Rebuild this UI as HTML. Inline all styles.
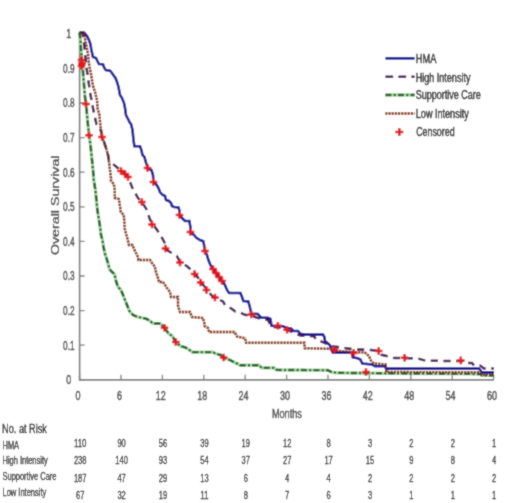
<!DOCTYPE html>
<html><head><meta charset="utf-8"><style>
html,body{margin:0;padding:0;background:#fff;}
svg{display:block;}
#w{width:520px;height:503px;overflow:hidden;}
text{font-family:"Liberation Sans",sans-serif;}
.b text,text.b{stroke:currentColor;stroke-width:0.45px;}
.t text,text.t{stroke:currentColor;stroke-width:0.3px;}
</style></head><body><div id="w">
<svg width="520" height="503" viewBox="0 0 520 503">
<defs><filter id="bl" filterUnits="userSpaceOnUse" x="0" y="0" width="520" height="503"><feConvolveMatrix order="3" kernelMatrix="1 2 1 2 12 2 1 2 1" divisor="24" edgeMode="none"/></filter></defs>
<g filter="url(#bl)">
<rect width="520" height="503" fill="#fff"/>
<path d="M79.6,32V379.8H494" fill="none" stroke="#7c7c7c" stroke-width="1.7"/>
<path d="M79.6,379.8V374.8M121.0,379.8V374.8M162.4,379.8V374.8M203.8,379.8V374.8M245.2,379.8V374.8M286.6,379.8V374.8M328.0,379.8V374.8M369.4,379.8V374.8M410.8,379.8V374.8M452.2,379.8V374.8M493.6,379.8V374.8M79.6,379.8H84.6M79.6,345.2H84.6M79.6,310.6H84.6M79.6,276.0H84.6M79.6,241.4H84.6M79.6,206.8H84.6M79.6,172.2H84.6M79.6,137.6H84.6M79.6,103.0H84.6M79.6,68.4H84.6M79.6,33.8H84.6" fill="none" stroke="#7c7c7c" stroke-width="1.3"/>
<g fill="none" stroke-linejoin="miter" stroke-linecap="butt">
<polyline points="79.6,32.5 80.5,40 81,50 82,60 83,72 84,85 85,97 86.5,108 87,115 88,125 89,135 90.5,145 91,150 92,160 93,170 93.8,180 95.4,190 96.4,200 97.4,210 99,220 100.4,229 101,235 102.5,240 103.5,247 105,254 106.4,258 108,263 109.4,269 112,272 114.5,274 116,281 118,287 121,290 123,295 125.4,301 127.4,306 129.4,311 133,315 138,317 143,318 146,318.7 149.5,320.5 153,323.5 160.3,323.5 164.5,327.7 168.6,333.6 172.2,336 175.8,342 180.6,346.2 185.3,347.4 189,349.7 192.5,352.1 212.7,352.1 216,353.8 220.8,355 223.6,357.5 229.4,359.8 234.8,362.5 240.2,365.2 259,365.2 261.7,367.9 273.8,367.9 276.5,369.9 327.7,370.2 331.5,372 337,372.8 390,373.3 480,374 482,375.5 494,375.5" stroke="#a4d4a0" stroke-width="3.2"/>
<polyline points="79.6,32.5 84,33.5 86,44 88,54 89,64 91,74 93,86 95,92 97,100 97.5,108 99.4,115 100,121 100.5,126 101.4,133 102,137 104,142 106,148 108,155 109,162 110,170 111,178 111,181 113.8,184 114.8,190 114.8,198 118.8,199 119.8,205 120.8,212 123.8,215 124.3,222 124.8,229 127,237 129,245 132.4,245 135,251 138,257 138.4,260 150,260 152,263 154.8,266.7 156,272 158,278 159,282 163,282 167,288 170,292 171,297 178,297 178,306 180,312 190,312 192,317 203,318 204.3,323 204.6,326 208,328 209.2,332 234.6,332 237,336.5 245,338.3 246.1,342.8 304.3,342.8 304.8,348.2 330,348.8 332,350 341.6,351.2 355.5,352.4 364.7,352.4 369,356 371,360.6 373.8,363.5 385.4,364.4 386.3,372 479,372.3 480.4,373.5 482,374.6 494,374.6" stroke="#ecc8b4" stroke-width="2.8"/>
<polyline points="79.6,32.5 84,32.5 87,36 89,40 90.4,44 91.4,50 93,57 96,58 97.4,61 99,64 103,64.3 104.3,68 105.8,70 110,70.7 111.8,72.7 113.8,75.7 115.5,78 117,82 118.5,87 120,95 122,98 124,103 125,108 126,115 128,119 130,123 131,124 132.5,130 133.5,140 134.4,146.3 140,146.3 141.4,150 142.4,154.8 144.4,156.8 146,162.7 147.5,167 149,169 151.4,170 153,175 153.4,182 156,184 158.4,187.8 160,192 162.4,194.8 165,196 166,200 169,201 171,203 172,206 174,207 178.5,207.5 179.5,211 179.5,215 182,218 185,221 189.4,221 190.4,227 190.4,232 194,235 196.4,237.8 200,240 203.3,241.3 204.4,247 205,251.4 207,255 208.4,260 210.4,265 213,269 216,273 219,277 222,281 224.8,284.7 227,290 229,293 240.4,293 242,297 243.4,301 248.3,301.4 249.8,306.8 251.3,314.3 254.8,313.8 257.8,314 261.1,317.7 268,317.7 270.4,318.8 271.5,325.8 283,326.3 287,328 291,328.5 293.4,331 298,331 300.4,333.8 305,334.6 323,334.6 324.4,337 325,341 327.4,343 330,345.3 331.4,349.8 332.9,352.6 351.8,352.6 352.8,357.3 357.7,358.3 360.4,359.6 362.3,363.5 372,364.4 374.8,366.3 385.4,366.3 386.3,368.6 479,368.6 480.4,370.2 482,372.4 494,372.4" stroke="#0e0e98" stroke-width="2.6"/>
<polyline points="79.6,32.5 82.5,32.8 83.5,38 85,52 86,64 88,78 90,92 91.5,100 93,108 94.4,115 96.4,124 99,127 101.4,132 102,137 104,142 106,148 108,155 109,160 113,164 119,169 121,171 125,174 128,177 132,187 134,191 138,198 141.8,202 145.8,208 147.7,212 149.7,219 152.7,224 157.8,231 162.7,239 164.7,243 167,250 170,252 176.8,256 180,262 186.8,266 194.7,273 199,279 201.5,283 205,287 208,290.5 211,295 215,298 223,301.4 225,305 231,308.3 235,311.3 241,312.8 244.8,314.8 252,316 261,319 268,320 271.5,327 283,327.5 287,330 293.4,332.5 300.4,335.5 314,336.2 316,339.6 319.6,340.8 325,343 330,346 338,347 348,348.5 355,349.5 365,349.5 371,350 378,351 381.5,354.8 390,356.7 394,358 417,358.3 426,360.8 462,361 464,363 472,363 474,365.5 480,365.5 484,368.5 494,368.5" stroke="#461558" stroke-width="2.5" stroke-dasharray="7.2,5.5"/>
<polyline points="79.6,32.5 80.5,40 81,50 82,60 83,72 84,85 85,97 86.5,108 87,115 88,125 89,135 90.5,145 91,150 92,160 93,170 93.8,180 95.4,190 96.4,200 97.4,210 99,220 100.4,229 101,235 102.5,240 103.5,247 105,254 106.4,258 108,263 109.4,269 112,272 114.5,274 116,281 118,287 121,290 123,295 125.4,301 127.4,306 129.4,311 133,315 138,317 143,318 146,318.7 149.5,320.5 153,323.5 160.3,323.5 164.5,327.7 168.6,333.6 172.2,336 175.8,342 180.6,346.2 185.3,347.4 189,349.7 192.5,352.1 212.7,352.1 216,353.8 220.8,355 223.6,357.5 229.4,359.8 234.8,362.5 240.2,365.2 259,365.2 261.7,367.9 273.8,367.9 276.5,369.9 327.7,370.2 331.5,372 337,372.8 390,373.3 480,374 482,375.5 494,375.5" stroke="#12601a" stroke-width="2.4" stroke-dasharray="6,2.3,2,2.3"/>
<polyline points="79.6,32.5 84,33.5 86,44 88,54 89,64 91,74 93,86 95,92 97,100 97.5,108 99.4,115 100,121 100.5,126 101.4,133 102,137 104,142 106,148 108,155 109,162 110,170 111,178 111,181 113.8,184 114.8,190 114.8,198 118.8,199 119.8,205 120.8,212 123.8,215 124.3,222 124.8,229 127,237 129,245 132.4,245 135,251 138,257 138.4,260 150,260 152,263 154.8,266.7 156,272 158,278 159,282 163,282 167,288 170,292 171,297 178,297 178,306 180,312 190,312 192,317 203,318 204.3,323 204.6,326 208,328 209.2,332 234.6,332 237,336.5 245,338.3 246.1,342.8 304.3,342.8 304.8,348.2 330,348.8 332,350 341.6,351.2 355.5,352.4 364.7,352.4 369,356 371,360.6 373.8,363.5 385.4,364.4 386.3,372 479,372.3 480.4,373.5 482,374.6 494,374.6" stroke="#6a2412" stroke-width="2.4" stroke-dasharray="1.8,1.4"/>
<path d="M77.7,60H85.3M81.5,56.2V63.8M78.2,63.5H85.8M82,59.7V67.3M77.7,66H85.3M81.5,62.2V69.8M82.2,104H89.8M86,100.2V107.8M85.2,135.3H92.8M89,131.5V139.10000000000002M98.2,137H105.8M102,133.2V140.8M117.2,171H124.8M121,167.2V174.8M121.2,174H128.8M125,170.2V177.8M124.2,177H131.8M128,173.2V180.8M138.0,202H145.60000000000002M141.8,198.2V205.8M148.2,224.5H155.8M152,220.7V228.3M161.7,248.5H169.3M165.5,244.7V252.3M176.2,262.5H183.8M180,258.7V266.3M190.79999999999998,274H198.4M194.6,270.2V277.8M196.79999999999998,282.5H204.4M200.6,278.7V286.3M202.7,290H210.3M206.5,286.2V293.8M211.2,297.5H218.8M215,293.7V301.3M143.7,168H151.3M147.5,164.2V171.8M149.6,182H157.20000000000002M153.4,178.2V185.8M175.7,215H183.3M179.5,211.2V218.8M186.6,232H194.20000000000002M190.4,228.2V235.8M201.2,251H208.8M205,247.2V254.8M209.2,269H216.8M213,265.2V272.8M212.2,273H219.8M216,269.2V276.8M215.2,277H222.8M219,273.2V280.8M218.2,281H225.8M222,277.2V284.8M247.5,314.5H255.10000000000002M251.3,310.7V318.3M274.09999999999997,325.8H281.7M277.9,322.0V329.6M283.2,329.8H290.8M287,326.0V333.6M330.59999999999997,349.5H338.2M334.4,345.7V353.3M349.9,352.9H357.5M353.7,349.09999999999997V356.7M374.9,351H382.5M378.7,347.2V354.8M400.8,357.7H408.40000000000003M404.6,353.9V361.5M457.0,360.4H464.6M460.8,356.59999999999997V364.2M160.7,327.7H168.3M164.5,323.9V331.5M172.0,342H179.60000000000002M175.8,338.2V345.8M219.79999999999998,357.5H227.4M223.6,353.7V361.3M362.2,372H369.8M366,368.2V375.8" stroke="#e3141c" stroke-width="2.5"/>
</g>
<g class="b" fill="#454545" color="#454545" font-size="12.5"><text x="78.0" y="399.5" text-anchor="middle" textLength="5.0" lengthAdjust="spacingAndGlyphs">0</text><text x="119.4" y="399.5" text-anchor="middle" textLength="5.0" lengthAdjust="spacingAndGlyphs">6</text><text x="160.8" y="399.5" text-anchor="middle" textLength="10.0" lengthAdjust="spacingAndGlyphs">12</text><text x="202.2" y="399.5" text-anchor="middle" textLength="10.0" lengthAdjust="spacingAndGlyphs">18</text><text x="243.6" y="399.5" text-anchor="middle" textLength="10.0" lengthAdjust="spacingAndGlyphs">24</text><text x="285.0" y="399.5" text-anchor="middle" textLength="10.0" lengthAdjust="spacingAndGlyphs">30</text><text x="326.4" y="399.5" text-anchor="middle" textLength="10.0" lengthAdjust="spacingAndGlyphs">36</text><text x="367.8" y="399.5" text-anchor="middle" textLength="10.0" lengthAdjust="spacingAndGlyphs">42</text><text x="409.2" y="399.5" text-anchor="middle" textLength="10.0" lengthAdjust="spacingAndGlyphs">48</text><text x="450.6" y="399.5" text-anchor="middle" textLength="10.0" lengthAdjust="spacingAndGlyphs">54</text><text x="492.0" y="399.5" text-anchor="middle" textLength="10.0" lengthAdjust="spacingAndGlyphs">60</text></g>
<g class="b" fill="#454545" color="#454545" font-size="12.5"><text x="68.8" y="384.1" text-anchor="middle" textLength="5.0" lengthAdjust="spacingAndGlyphs">0</text><text x="68.8" y="349.5" text-anchor="middle" textLength="11.5" lengthAdjust="spacingAndGlyphs">0.1</text><text x="68.8" y="314.9" text-anchor="middle" textLength="11.5" lengthAdjust="spacingAndGlyphs">0.2</text><text x="68.8" y="280.3" text-anchor="middle" textLength="11.5" lengthAdjust="spacingAndGlyphs">0.3</text><text x="68.8" y="245.7" text-anchor="middle" textLength="11.5" lengthAdjust="spacingAndGlyphs">0.4</text><text x="68.8" y="211.1" text-anchor="middle" textLength="11.5" lengthAdjust="spacingAndGlyphs">0.5</text><text x="68.8" y="176.5" text-anchor="middle" textLength="11.5" lengthAdjust="spacingAndGlyphs">0.6</text><text x="68.8" y="141.9" text-anchor="middle" textLength="11.5" lengthAdjust="spacingAndGlyphs">0.7</text><text x="68.8" y="107.3" text-anchor="middle" textLength="11.5" lengthAdjust="spacingAndGlyphs">0.8</text><text x="68.8" y="72.7" text-anchor="middle" textLength="11.5" lengthAdjust="spacingAndGlyphs">0.9</text><text x="68.8" y="38.1" text-anchor="middle" textLength="5.0" lengthAdjust="spacingAndGlyphs">1</text></g>
<text class="b" x="286.9" y="418.3" font-size="12.5" fill="#454545" color="#454545" text-anchor="middle" textLength="30" lengthAdjust="spacingAndGlyphs">Months</text>
<text class="b" transform="translate(59,205.3) scale(0.74,1) rotate(-90)" font-size="14" fill="#454545" color="#454545" text-anchor="middle" textLength="99.5" lengthAdjust="spacingAndGlyphs" style="font-size:14px">Overall Survival</text>
<!-- legend -->
<g fill="none" stroke-width="2.2">
<path d="M385.4,58.3H414.6" stroke="#0e0e98" stroke-width="2.7"/>
<path d="M385.4,76.8H414.6" stroke="#461558" stroke-width="2.6" stroke-dasharray="7.8,5.2"/>
<path d="M385.4,94.9H414.6" stroke="#a4d4a0" stroke-width="3.2"/>
<path d="M385.4,94.9H414.6" stroke="#12601a" stroke-width="2.5" stroke-dasharray="6,2.3,2,2.3"/>
<path d="M385.4,113.5H414.6" stroke="#ecc8b4" stroke-width="2.8"/>
<path d="M385.4,113.5H414.6" stroke="#6a2412" stroke-width="2.4" stroke-dasharray="1.8,1.4"/>
<path d="M395.3,132H403.3M399.3,128V136" stroke="#e3141c" stroke-width="2.5"/>
</g>
<g class="b" fill="#222" color="#222" font-size="12.2">
<text x="415.8" y="62.7" textLength="20.6" lengthAdjust="spacingAndGlyphs">HMA</text>
<text x="415.8" y="81.6" textLength="54.6" lengthAdjust="spacingAndGlyphs">High Intensity</text>
<text x="415.8" y="98.9" textLength="65" lengthAdjust="spacingAndGlyphs">Supportive Care</text>
<text x="415.8" y="117.6" textLength="53" lengthAdjust="spacingAndGlyphs">Low Intensity</text>
<text x="416.2" y="135.9" textLength="38.4" lengthAdjust="spacingAndGlyphs">Censored</text>
</g>
<text class="t" x="2.1" y="433.4" font-size="12.5" fill="#111" color="#111" textLength="44.8" lengthAdjust="spacingAndGlyphs">No. at Risk</text>
<g class="t" fill="#1a1a1a" color="#1a1a1a" font-size="10.5"><text x="2.5" y="448.9" textLength="16.6" lengthAdjust="spacingAndGlyphs">HMA</text><text x="80.2" y="446.9" font-size="11" text-anchor="middle" textLength="12.600000000000001" lengthAdjust="spacingAndGlyphs">110</text><text x="121.6" y="446.9" font-size="11" text-anchor="middle" textLength="8.4" lengthAdjust="spacingAndGlyphs">90</text><text x="163.0" y="446.9" font-size="11" text-anchor="middle" textLength="8.4" lengthAdjust="spacingAndGlyphs">56</text><text x="204.4" y="446.9" font-size="11" text-anchor="middle" textLength="8.4" lengthAdjust="spacingAndGlyphs">39</text><text x="245.8" y="446.9" font-size="11" text-anchor="middle" textLength="8.4" lengthAdjust="spacingAndGlyphs">19</text><text x="287.2" y="446.9" font-size="11" text-anchor="middle" textLength="8.4" lengthAdjust="spacingAndGlyphs">12</text><text x="328.6" y="446.9" font-size="11" text-anchor="middle" textLength="4.2" lengthAdjust="spacingAndGlyphs">8</text><text x="370.0" y="446.9" font-size="11" text-anchor="middle" textLength="4.2" lengthAdjust="spacingAndGlyphs">3</text><text x="411.4" y="446.9" font-size="11" text-anchor="middle" textLength="4.2" lengthAdjust="spacingAndGlyphs">2</text><text x="452.8" y="446.9" font-size="11" text-anchor="middle" textLength="4.2" lengthAdjust="spacingAndGlyphs">2</text><text x="494.2" y="446.9" font-size="11" text-anchor="middle" textLength="4.2" lengthAdjust="spacingAndGlyphs">1</text><text x="2.5" y="464.2" textLength="45.2" lengthAdjust="spacingAndGlyphs">High Intensity</text><text x="80.2" y="464.3" font-size="11" text-anchor="middle" textLength="12.600000000000001" lengthAdjust="spacingAndGlyphs">238</text><text x="121.6" y="464.3" font-size="11" text-anchor="middle" textLength="12.600000000000001" lengthAdjust="spacingAndGlyphs">140</text><text x="163.0" y="464.3" font-size="11" text-anchor="middle" textLength="8.4" lengthAdjust="spacingAndGlyphs">93</text><text x="204.4" y="464.3" font-size="11" text-anchor="middle" textLength="8.4" lengthAdjust="spacingAndGlyphs">54</text><text x="245.8" y="464.3" font-size="11" text-anchor="middle" textLength="8.4" lengthAdjust="spacingAndGlyphs">37</text><text x="287.2" y="464.3" font-size="11" text-anchor="middle" textLength="8.4" lengthAdjust="spacingAndGlyphs">27</text><text x="328.6" y="464.3" font-size="11" text-anchor="middle" textLength="8.4" lengthAdjust="spacingAndGlyphs">17</text><text x="370.0" y="464.3" font-size="11" text-anchor="middle" textLength="8.4" lengthAdjust="spacingAndGlyphs">15</text><text x="411.4" y="464.3" font-size="11" text-anchor="middle" textLength="4.2" lengthAdjust="spacingAndGlyphs">9</text><text x="452.8" y="464.3" font-size="11" text-anchor="middle" textLength="4.2" lengthAdjust="spacingAndGlyphs">8</text><text x="494.2" y="464.3" font-size="11" text-anchor="middle" textLength="4.2" lengthAdjust="spacingAndGlyphs">4</text><text x="2.5" y="480.0" textLength="54.0" lengthAdjust="spacingAndGlyphs">Supportive Care</text><text x="80.2" y="481.5" font-size="11" text-anchor="middle" textLength="12.600000000000001" lengthAdjust="spacingAndGlyphs">187</text><text x="121.6" y="481.5" font-size="11" text-anchor="middle" textLength="8.4" lengthAdjust="spacingAndGlyphs">47</text><text x="163.0" y="481.5" font-size="11" text-anchor="middle" textLength="8.4" lengthAdjust="spacingAndGlyphs">29</text><text x="204.4" y="481.5" font-size="11" text-anchor="middle" textLength="8.4" lengthAdjust="spacingAndGlyphs">13</text><text x="245.8" y="481.5" font-size="11" text-anchor="middle" textLength="4.2" lengthAdjust="spacingAndGlyphs">6</text><text x="287.2" y="481.5" font-size="11" text-anchor="middle" textLength="4.2" lengthAdjust="spacingAndGlyphs">4</text><text x="328.6" y="481.5" font-size="11" text-anchor="middle" textLength="4.2" lengthAdjust="spacingAndGlyphs">4</text><text x="370.0" y="481.5" font-size="11" text-anchor="middle" textLength="4.2" lengthAdjust="spacingAndGlyphs">2</text><text x="411.4" y="481.5" font-size="11" text-anchor="middle" textLength="4.2" lengthAdjust="spacingAndGlyphs">2</text><text x="452.8" y="481.5" font-size="11" text-anchor="middle" textLength="4.2" lengthAdjust="spacingAndGlyphs">2</text><text x="494.2" y="481.5" font-size="11" text-anchor="middle" textLength="4.2" lengthAdjust="spacingAndGlyphs">2</text><text x="2.5" y="495.8" textLength="43.8" lengthAdjust="spacingAndGlyphs">Low Intensity</text><text x="80.2" y="499.1" font-size="11" text-anchor="middle" textLength="8.4" lengthAdjust="spacingAndGlyphs">67</text><text x="121.6" y="499.1" font-size="11" text-anchor="middle" textLength="8.4" lengthAdjust="spacingAndGlyphs">32</text><text x="163.0" y="499.1" font-size="11" text-anchor="middle" textLength="8.4" lengthAdjust="spacingAndGlyphs">19</text><text x="204.4" y="499.1" font-size="11" text-anchor="middle" textLength="8.4" lengthAdjust="spacingAndGlyphs">11</text><text x="245.8" y="499.1" font-size="11" text-anchor="middle" textLength="4.2" lengthAdjust="spacingAndGlyphs">8</text><text x="287.2" y="499.1" font-size="11" text-anchor="middle" textLength="4.2" lengthAdjust="spacingAndGlyphs">7</text><text x="328.6" y="499.1" font-size="11" text-anchor="middle" textLength="4.2" lengthAdjust="spacingAndGlyphs">6</text><text x="370.0" y="499.1" font-size="11" text-anchor="middle" textLength="4.2" lengthAdjust="spacingAndGlyphs">3</text><text x="411.4" y="499.1" font-size="11" text-anchor="middle" textLength="4.2" lengthAdjust="spacingAndGlyphs">1</text><text x="452.8" y="499.1" font-size="11" text-anchor="middle" textLength="4.2" lengthAdjust="spacingAndGlyphs">1</text><text x="494.2" y="499.1" font-size="11" text-anchor="middle" textLength="4.2" lengthAdjust="spacingAndGlyphs">1</text></g>
</g></svg></div>
</body></html>
